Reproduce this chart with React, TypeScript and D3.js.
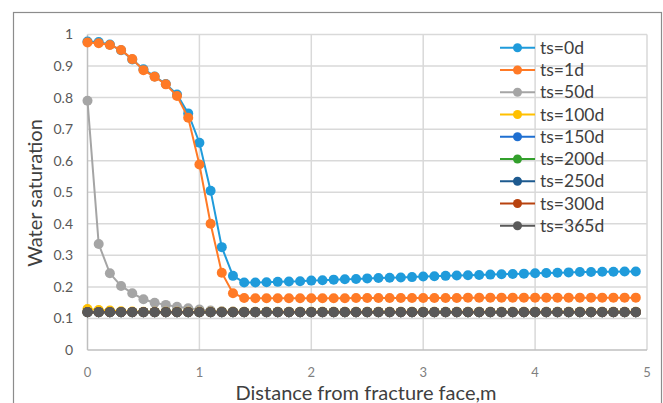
import React, { useEffect, useRef } from 'react';
import * as d3 from 'd3';

// distance from fracture face, m (0 .. 4.9 step 0.1)
const distance = [
  0, 0.1, 0.2, 0.3, 0.4, 0.5, 0.6, 0.7, 0.8, 0.9,
  1, 1.1, 1.2, 1.3, 1.4, 1.5, 1.6, 1.7, 1.8, 1.9,
  2, 2.1, 2.2, 2.3, 2.4, 2.5, 2.6, 2.7, 2.8, 2.9,
  3, 3.1, 3.2, 3.3, 3.4, 3.5, 3.6, 3.7, 3.8, 3.9,
  4, 4.1, 4.2, 4.3, 4.4, 4.5, 4.6, 4.7, 4.8, 4.9,
];

const ts0 = [
  0.978, 0.976, 0.968, 0.950, 0.921, 0.890, 0.867, 0.843, 0.810, 0.750,
  0.657, 0.505, 0.326, 0.235, 0.214, 0.214, 0.215, 0.216, 0.217, 0.218,
  0.220, 0.221, 0.223, 0.224, 0.225, 0.227, 0.228, 0.229, 0.230, 0.231,
  0.233, 0.234, 0.235, 0.236, 0.237, 0.238, 0.239, 0.240, 0.241, 0.242,
  0.243, 0.244, 0.245, 0.246, 0.247, 0.247, 0.248, 0.248, 0.249, 0.249,
];
const ts1 = [
  0.975, 0.972, 0.967, 0.951, 0.922, 0.887, 0.866, 0.842, 0.805, 0.736,
  0.588, 0.400, 0.245, 0.180, 0.165, 0.164, 0.164, 0.164, 0.164, 0.164,
  0.164, 0.164, 0.164, 0.164, 0.165, 0.165, 0.165, 0.165, 0.165, 0.165,
  0.165, 0.165, 0.165, 0.165, 0.166, 0.166, 0.166, 0.166, 0.166, 0.166,
  0.166, 0.166, 0.166, 0.166, 0.166, 0.166, 0.166, 0.166, 0.166, 0.166,
];
const ts50 = [
  0.790, 0.336, 0.243, 0.203, 0.180, 0.161, 0.150, 0.143, 0.137, 0.132,
  0.128, 0.125, 0.123, 0.122, 0.121, 0.121, 0.121, 0.121, 0.121, 0.121,
  0.121, 0.121, 0.121, 0.121, 0.121, 0.121, 0.121, 0.121, 0.121, 0.121,
  0.121, 0.121, 0.121, 0.121, 0.121, 0.121, 0.121, 0.121, 0.121, 0.121,
  0.121, 0.121, 0.121, 0.121, 0.121, 0.121, 0.121, 0.121, 0.121, 0.121,
];
const ts100 = [
  0.130, 0.127, 0.125, 0.123, 0.122, 0.121, 0.121, 0.121, 0.121, 0.121,
  0.121, 0.121, 0.121, 0.121, 0.121, 0.121, 0.121, 0.121, 0.121, 0.121,
  0.121, 0.121, 0.121, 0.121, 0.121, 0.121, 0.121, 0.121, 0.121, 0.121,
  0.121, 0.121, 0.121, 0.121, 0.121, 0.121, 0.121, 0.121, 0.121, 0.121,
  0.121, 0.121, 0.121, 0.121, 0.121, 0.121, 0.121, 0.121, 0.121, 0.121,
];
// ts=150d .. 365d sit at residual saturation everywhere
const tsResidual = [
  0.120, 0.120, 0.120, 0.120, 0.120, 0.120, 0.120, 0.120, 0.120, 0.120,
  0.120, 0.120, 0.120, 0.120, 0.120, 0.120, 0.120, 0.120, 0.120, 0.120,
  0.120, 0.120, 0.120, 0.120, 0.120, 0.120, 0.120, 0.120, 0.120, 0.120,
  0.120, 0.120, 0.120, 0.120, 0.120, 0.120, 0.120, 0.120, 0.120, 0.120,
  0.120, 0.120, 0.120, 0.120, 0.120, 0.120, 0.120, 0.120, 0.120, 0.120,
];

const seriesNames = ['ts=0d', 'ts=1d', 'ts=50d', 'ts=100d', 'ts=150d', 'ts=200d', 'ts=250d', 'ts=300d', 'ts=365d'];
const seriesValues = [ts0, ts1, ts50, ts100, tsResidual, tsResidual, tsResidual, tsResidual, tsResidual];
const seriesColors = ['#1f9bdb', '#ff7a26', '#a5a5a5', '#ffc000', '#1f6fd1', '#33a02c', '#1d5a8f', '#b8420f', '#595959'];

const xTicks = [0, 1, 2, 3, 4, 5];
const yTicks = [0, 0.1, 0.2, 0.3, 0.4, 0.5, 0.6, 0.7, 0.8, 0.9, 1];

const W = 663, H = 403;
const FONT = 'Lato, "Open Sans", sans-serif';

export default function App() {
  const ref = useRef<SVGSVGElement>(null);

  useEffect(() => {
    const svg = d3.select(ref.current);
    svg.selectAll('*').remove();

    // outer chart frame
    svg.append('rect')
      .attr('x', 13.5).attr('y', 12.5)
      .attr('width', 648).attr('height', 400)
      .attr('fill', '#fff')
      .attr('stroke', '#8c8c8c')
      .attr('stroke-width', 1.2);

    const x = d3.scaleLinear().domain([0, 5]).range([87.5, 647]);
    const y = d3.scaleLinear().domain([0, 1]).range([350, 34.5]);

    const g = svg.append('g');

    // grid
    g.selectAll('.hgrid')
      .data(yTicks.filter(d => d > 0))
      .enter().append('line')
      .attr('x1', x(0)).attr('x2', x(5))
      .attr('y1', d => y(d)).attr('y2', d => y(d))
      .attr('stroke', '#d9d9d9').attr('stroke-width', 1.5);
    g.selectAll('.vgrid')
      .data(xTicks.filter(d => d > 0))
      .enter().append('line')
      .attr('x1', d => x(d)).attr('x2', d => x(d))
      .attr('y1', y(0)).attr('y2', y(1))
      .attr('stroke', '#d9d9d9').attr('stroke-width', 1.5);

    // axis lines
    g.append('line')
      .attr('x1', x(0)).attr('x2', x(0)).attr('y1', y(0)).attr('y2', y(1))
      .attr('stroke', '#bfbfbf').attr('stroke-width', 1.5);
    g.append('line')
      .attr('x1', x(0)).attr('x2', x(5)).attr('y1', y(0)).attr('y2', y(0))
      .attr('stroke', '#bfbfbf').attr('stroke-width', 1.5);

    // tick labels
    g.selectAll('.ylab')
      .data(yTicks)
      .enter().append('text')
      .attr('x', 73).attr('y', d => y(d))
      .attr('dy', '0.35em')
      .attr('text-anchor', 'end')
      .attr('font-family', FONT).attr('font-size', 14)
      .attr('fill', '#595959')
      .text(d => String(d));
    g.selectAll('.xlab')
      .data(xTicks)
      .enter().append('text')
      .attr('x', d => x(d)).attr('y', 377)
      .attr('text-anchor', 'middle')
      .attr('font-family', FONT).attr('font-size', 13)
      .attr('fill', '#7f7f7f')
      .text(d => String(d));

    // axis titles
    svg.append('text')
      .attr('x', 366).attr('y', 400)
      .attr('text-anchor', 'middle')
      .attr('font-family', FONT).attr('font-size', 20)
      .attr('fill', '#404040')
      .text('Distance from fracture face,m');
    svg.append('text')
      .attr('transform', 'translate(42,193) rotate(-90)')
      .attr('text-anchor', 'middle')
      .attr('font-family', FONT).attr('font-size', 20)
      .attr('fill', '#404040')
      .text('Water saturation');

    // series
    const line = d3.line<number>()
      .x((_, i) => x(distance[i]))
      .y(d => y(d));

    seriesValues.forEach((vals, k) => {
      const s = g.append('g');
      s.append('path')
        .attr('d', line(vals))
        .attr('fill', 'none')
        .attr('stroke', seriesColors[k])
        .attr('stroke-width', 2);
      s.selectAll('circle')
        .data(vals)
        .enter().append('circle')
        .attr('cx', (_, i) => x(distance[i]))
        .attr('cy', d => y(d))
        .attr('r', 5)
        .attr('fill', seriesColors[k]);
    });

    // legend
    const leg = svg.append('g');
    seriesNames.forEach((name, k) => {
      const cy = 47.7 + k * 22.25;
      leg.append('line')
        .attr('x1', 500).attr('x2', 535).attr('y1', cy).attr('y2', cy)
        .attr('stroke', seriesColors[k]).attr('stroke-width', 2);
      leg.append('circle')
        .attr('cx', 517.5).attr('cy', cy).attr('r', 4.5)
        .attr('fill', seriesColors[k]);
      leg.append('text')
        .attr('x', 540).attr('y', cy).attr('dy', '0.35em')
        .attr('font-family', FONT).attr('font-size', 17.5)
        .attr('fill', '#404040')
        .text(name);
    });
  }, []);

  return (
    <div style={{ position: 'fixed', left: 0, top: 0, width: W, height: H, background: '#fff' }}>
      <svg ref={ref} width={W} height={H} />
    </div>
  );
}
